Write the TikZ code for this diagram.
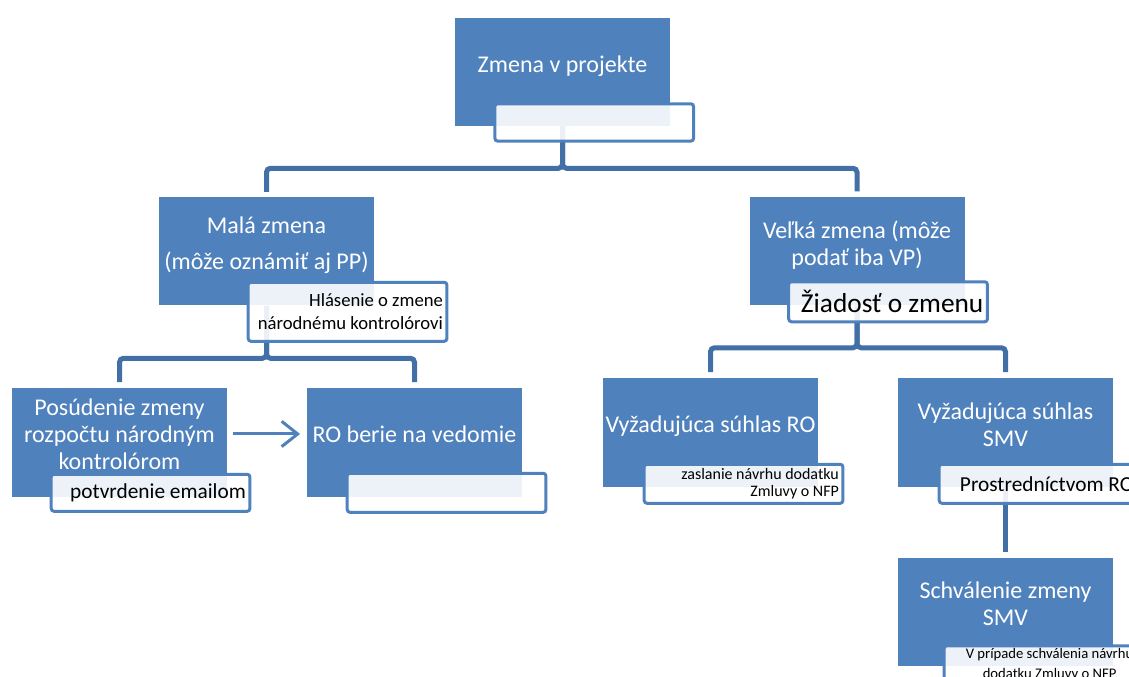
\documentclass[tikz,border=0pt]{standalone}
\usepackage{fontspec}
\setmainfont{Carlito}
\usetikzlibrary{positioning,arrows.meta}

\definecolor{boxblue}{HTML}{4F81BD}
\definecolor{lineblue}{HTML}{416FA6}

\tikzset{
	bluebox/.style={fill=boxblue,text=white,minimum width=161.25pt,minimum height=81pt,inner xsep=1pt,inner ysep=2pt,align=center,text depth=12pt,font=\fontsize{18}{20.25}\selectfont},
	notebox/.style={draw=boxblue,line width=2.25pt,rounded corners=2pt,fill=white,fill opacity=0.9,text opacity=1,text=black,minimum width=149pt,minimum height=28pt,text width=143pt,inner xsep=3pt,inner ysep=1pt,align=flush right},
	conn/.style={draw=lineblue,line width=3.75pt,rounded corners=3pt},
	nextarrow/.style={draw=boxblue,line width=2.25pt,-{Straight Barb[length=12pt,width=19pt]}}
}

\begin{document}
\begin{tikzpicture}[x=0.75pt,y=-0.75pt]
	\useasboundingbox (0,0) rectangle (1129,677);
	\clip (0,0) rectangle (1129,677);

	\node[bluebox] (zmena) at (562.5,72) {Zmena v projekte};
	\node[bluebox] (mala) at (266.5,251.5) {Malá zmena\\[7pt](môže oznámiť aj PP)};
	\node[bluebox] (velka) at (857,251) {Veľká zmena (môže\\podať iba VP)};
	\node[bluebox] (posud) at (119.5,442.5) {Posúdenie zmeny\\rozpočtu národným\\kontrolórom};
	\node[bluebox] (robere) at (414.5,442.5) {RO berie na vedomie};
	\node[bluebox] (vyzro) at (710.5,432.5) {Vyžadujúca súhlas RO};
	\node[bluebox] (vyzsmv) at (1005.5,432.5) {Vyžadujúca súhlas\\SMV};
	\node[bluebox] (schval) at (1005.5,612) {Schválenie zmeny\\SMV};

	\draw[conn] (zmena.south) -- ++(0,42) -| ([yshift=4pt]mala.north);
	\draw[conn] (zmena.south) -- ++(0,42) -| ([yshift=4pt]velka.north);
	\draw[conn] (mala.south) -- ++(0,52.5) -| ([yshift=4.5pt]posud.north);
	\draw[conn] (mala.south) -- ++(0,52.5) -| ([yshift=4.5pt]robere.north);
	\draw[conn] (velka.south) -- ++(0,42.5) -| ([yshift=4.5pt]vyzro.north);
	\draw[conn] (velka.south) -- ++(0,42.5) -| ([yshift=4.5pt]vyzsmv.north);
	\draw[conn] (vyzsmv.south) -- ([yshift=4.5pt]schval.north);

	\draw[nextarrow] ([xshift=4.5pt,yshift=6.4pt]posud.east) -- ([xshift=-5pt,yshift=6.4pt]robere.west);

	\node[notebox,below right=-18pt and 29pt of zmena.south west] (zmenanote) {};
	\node[notebox,minimum height=44.25pt,font=\fontsize{14}{17}\selectfont,below right=-18.75pt and 66pt of mala.south west] (malanote) {Hlásenie o zmene\\národnému kontrolórovi};
	\node[notebox,minimum height=30pt,font=\fontsize{20.5}{22}\selectfont,below right=-18.75pt and 28.5pt of velka.south west] (velkanote) {Žiadosť o zmenu};
	\node[notebox,minimum height=27.75pt,font=\fontsize{16}{18}\selectfont,below right=-18pt and 28.5pt of posud.south west] (posudnote) {potvrdenie emailom};
	\node[notebox,minimum height=29.25pt,below right=-18.75pt and 29.25pt of robere.south west] (roberenote) {};
	\node[notebox,minimum height=29.25pt,font=\fontsize{12}{13}\selectfont,below right=-18pt and 30pt of vyzro.south west] (vyzronote) {zaslanie návrhu dodatku\\Zmluvy o NFP};
	\node[notebox,minimum height=29.25pt,font=\fontsize{16}{18}\selectfont,below right=-18pt and 30pt of vyzsmv.south west] (vyzsmvnote) {Prostredníctvom RO};
	\node[notebox,align=flush center,minimum width=158pt,text width=152pt,minimum height=28pt,font=\fontsize{11}{15}\selectfont,below right=-16.5pt and 33.75pt of schval.south west] (schvalnote) {V prípade schválenia návrhu\\dodatku Zmluvy o NFP};
\end{tikzpicture}
\end{document}
